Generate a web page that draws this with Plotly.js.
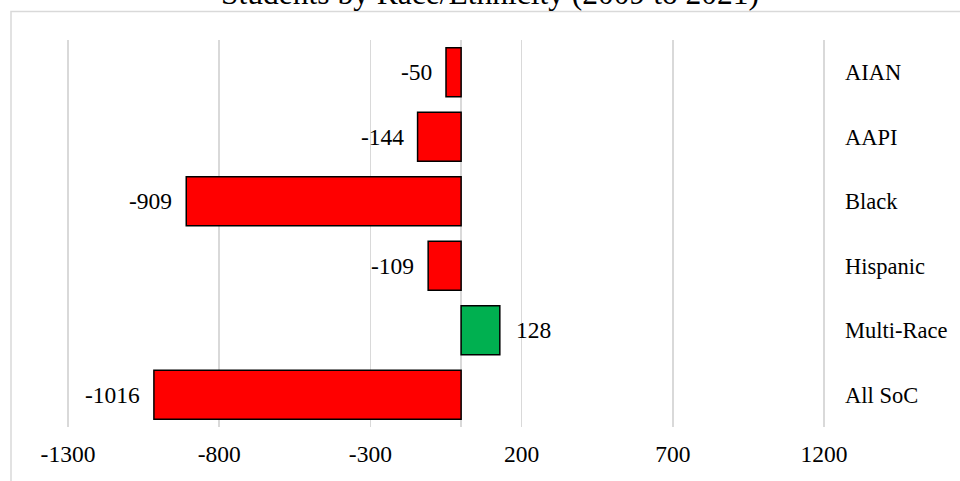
<!DOCTYPE html>
<html>
<head>
<meta charset="utf-8">
<script src="https://cdn.plot.ly/plotly-3.0.1.min.js"></script>
<style>
  html, body { margin: 0; padding: 0; background: #ffffff; }
  #chart { width: 960px; height: 481px; }
</style>
</head>
<body>
<div id="chart"></div>
<script>
// Change in students of colour, 2009 to 2021, by group
const groups = ["AIAN", "AAPI", "Black", "Hispanic", "Multi-Race", "All SoC"];
const change = [-50, -144, -909, -109, 128, -1016];
const chartTitle = "Students by Race/Ethnicity (2009 to 2021)";
const xTicks = [-1300, -800, -300, 200, 700, 1200];

const W = 960, H = 481;
const M = { l: 65.0, r: 133.0, t: 39.5, b: 53.5 };
const plotW = W - M.l - M.r, plotH = H - M.t - M.b;
const px = v => (v - M.l) / plotW;          // pixel x -> paper x
const py = v => (H - M.b - v) / plotH;      // pixel y -> paper y

const serif = "Liberation Serif, Times New Roman, serif";
const gridGrey = "#d9d9d9";

const barColors = change.map(v => v < 0 ? "#ff0000" : "#00b050");

const trace = {
  type: "bar",
  orientation: "h",
  x: change,
  y: groups,
  marker: { color: barColors, line: { color: "#000000", width: 1.5 } },
  hoverinfo: "skip"
};

// value labels sit just beyond the end of each bar
const valueLabels = change.map((v, i) => ({
  x: v, y: groups[i], xref: "x", yref: "y",
  text: String(v), showarrow: false,
  xanchor: v < 0 ? "right" : "left",
  xshift: v < 0 ? -12 : 14,
  font: { family: serif, size: 23.5, color: "#000000" }
}));

const titleNote = {
  x: px(490), y: py(-7), xref: "paper", yref: "paper",
  text: chartTitle, showarrow: false,
  xanchor: "center", yanchor: "middle",
  font: { family: serif, size: 31.5, color: "#000000" }
};

const layout = {
  width: W, height: H,
  margin: M,
  paper_bgcolor: "#ffffff",
  plot_bgcolor: "#ffffff",
  showlegend: false,
  bargap: 0.24,
  xaxis: {
    range: [-1310, 1210],
    tickvals: xTicks,
    ticktext: xTicks.map(String),
    showgrid: true, gridcolor: gridGrey, gridwidth: 1.5,
    zeroline: true, zerolinecolor: gridGrey, zerolinewidth: 1.5,
    showline: false,
    ticks: "", ticklabelstandoff: 10,
    tickfont: { family: serif, size: 23.5, color: "#000000" },
    fixedrange: true
  },
  yaxis: {
    type: "category",
    autorange: "reversed",
    side: "right",
    showgrid: false, zeroline: false, showline: false,
    ticks: "", ticklabelstandoff: 17,
    tickfont: { family: serif, size: 22.5, color: "#000000" },
    fixedrange: true
  },
  shapes: [{
    type: "rect", xref: "paper", yref: "paper", layer: "below",
    x0: px(11), x1: px(970), y0: py(495), y1: py(11),
    line: { color: gridGrey, width: 1.5 }, fillcolor: "rgba(0,0,0,0)"
  }],
  annotations: [titleNote].concat(valueLabels)
};

Plotly.newPlot("chart", [trace], layout, { staticPlot: true, displayModeBar: false });
</script>
</body>
</html>
